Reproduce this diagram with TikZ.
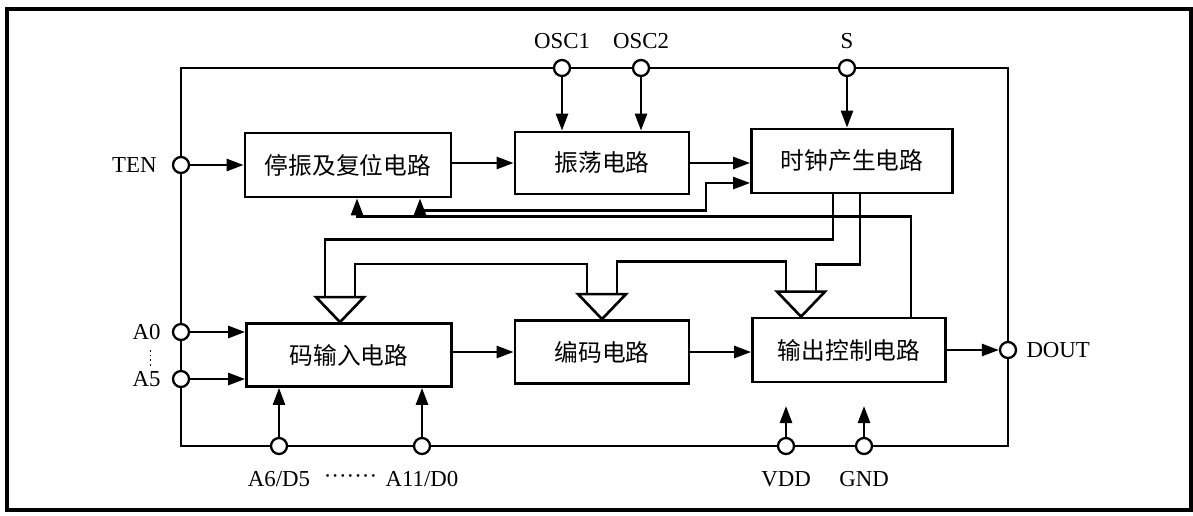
\documentclass[tikz,border=0pt]{standalone}
\usepackage{fontspec}
\setmainfont{Liberation Serif}
\newfontfamily\cjk{Noto Sans CJK SC}
\usetikzlibrary{arrows.meta,positioning,calc}

\begin{document}
\begin{tikzpicture}[x=0.02cm,y=-0.02cm,
    block/.style={draw,line width=1.6pt,inner sep=0pt,font=\cjk\fontsize{13.5}{13.5}\selectfont},
    pin/.style={circle,draw,line width=1.3pt,fill=white,minimum size=0.32cm,inner sep=0pt},
    wire/.style={line width=1.5pt},
    arr/.style={wire,-{Triangle[length=0.34cm,width=0.24cm]}},
    dbl/.style={wire,{Triangle[length=0.34cm,width=0.24cm]}-{Triangle[length=0.34cm,width=0.24cm]}},
    lbl/.style={inner sep=0pt,font=\fontsize{13}{13}\selectfont}]
    \useasboundingbox (0,0) rectangle (1193,515);

    % Outer frame
    \draw[line width=1.8pt] (7,9) rectangle (1191,510);

    % Blocks
    \node[block,minimum width=4.12cm,minimum height=1.28cm] (stop) at (348,165) {停振及复位电路};
    \node[block,minimum width=3.48cm,minimum height=1.24cm] (osc) at (602,163) {振荡电路};
    \node[block,minimum width=4.02cm,minimum height=1.28cm] (clk) at (852,161) {时钟产生电路};
    \node[block,minimum width=4.10cm,minimum height=1.26cm] (cin) at (349,355) {码输入电路};
    \node[block,minimum width=3.48cm,minimum height=1.26cm] (enc) at (602,352) {编码电路};
    \node[block,minimum width=3.86cm,minimum height=1.28cm] (outc) at (849,350) {输出控制电路};

    % Pins
    \node[pin] (ten) at (181,165) {};
    \node[pin] (a0) at (181,332) {};
    \node[pin] (a5) at (181,379) {};
    \node[pin] (osca) at (562,68) {};
    \node[pin] (oscb) at (641,68) {};
    \node[pin] (spin) at (847,68) {};
    \node[pin] (dout) at (1008,350) {};
    \node[pin] (a6) at (279,446) {};
    \node[pin] (a11) at (422,446) {};
    \node[pin] (vdd) at (786,446) {};
    \node[pin] (gnd) at (864,446) {};

    % Ring wire through the pins
    \coordinate (tl) at (181,68);
    \coordinate (tr) at (1008,68);
    \coordinate (bl) at (181,446);
    \coordinate (br) at (1008,446);
    \draw[wire] (a0) -- (ten) -- (tl) -- (osca) -- (oscb) -- (spin) -- (tr) -- (dout) -- (br)
        -- (gnd) -- (vdd) -- (a11) -- (a6) -- (bl) -- (a5) -- (a0);

    % Pin arrows
    \draw[arr] (ten) -- (stop.west |- ten);
    \draw[arr] (a0) -- (cin.west |- a0);
    \draw[arr] (a5) -- (cin.west |- a5);
    \draw[arr] (osca) -- (osc.north -| osca);
    \draw[arr] (oscb) -- (osc.north -| oscb);
    \draw[arr] (spin) -- (clk.north -| spin);
    \draw[arr] (a6) -- (cin.south -| a6);
    \draw[arr] (a11) -- (cin.south -| a11);
    \coordinate (vddend) at (786,406);
    \coordinate (gndend) at (864,406);
    \draw[arr] (vdd) -- (vddend);
    \draw[arr] (gnd) -- (gndend);
    \draw[arr] (outc.east) -- (dout);

    % Block to block
    \draw[arr] (stop.east |- osc) -- (osc.west);
    \draw[arr] (osc.east) -- (clk.west |- osc);
    \draw[arr] (cin.east |- enc) -- (enc.west);
    \draw[arr] (enc.east) -- (outc.west |- enc);

    % Feedback lines
    \draw[arr] ($(outc.north)+(62,0)$) -- ++(0,-100) -| ($(stop.south)+(9,0)$);
    \draw[dbl] ($(stop.south)+(72,0)$) -- ++(0,12) -- ++(286,0) |- ($(clk.west)+(0,22)$);

    % Clock buses with triangles
    \coordinate (t1) at ($(cin.north)+(-9,0)$);
    \coordinate (t2) at (enc.north);
    \coordinate (t3) at ($(outc.north)+(-48,0)$);
    \foreach \t in {t1,t2,t3}
        \draw[wire,line join=miter] ($(\t)+(-24,-25)$) -- ($(\t)+(24,-25)$) -- (\t) -- cycle;
    \draw[wire] ($(clk.south)+(-19,0)$) -- ++(0,45) -| ($(t1)+(-15,-25)$);
    \draw[wire] ($(clk.south)+(8,0)$) -- ++(0,70) -| ($(t3)+(15,-25)$);
    \draw[wire] ($(t3)+(-15,-25)$) -- ++(0,-30) -| ($(t2)+(15,-25)$);
    \draw[wire] ($(t2)+(-15,-25)$) -- ++(0,-30) -| ($(t1)+(15,-25)$);

    % Labels
    \node[lbl,left=0.3cm of ten] (tenlbl) {TEN};
    \node[lbl,left=0.22cm of a0] (a0lbl) {A0};
    \node[lbl,left=0.22cm of a5] (a5lbl) {A5};
    \draw[line width=1pt,dash pattern=on 1pt off 1.6pt] ($(a0lbl.south)+(4,10)$) -- ($(a5lbl.north)+(4,-5)$);
    \node[lbl,above=0.2cm of osca] (oscalbl) {OSC1};
    \node[lbl,above=0.2cm of oscb] (oscblbl) {OSC2};
    \node[lbl,above=0.2cm of spin] (slbl) {S};
    \node[lbl,right=0.18cm of dout] (doutlbl) {DOUT};
    \node[lbl,below=0.32cm of a6] (a6lbl) {A6/D5};
    \node[lbl,below=0.32cm of a11] (a11lbl) {A11/D0};
    \node[lbl] (dotslbl) at ($(a6lbl)!0.5!(a11lbl)$) {·······};
    \node[lbl,below=0.32cm of vdd] (vddlbl) {VDD};
    \node[lbl,below=0.32cm of gnd] (gndlbl) {GND};
\end{tikzpicture}
\end{document}
